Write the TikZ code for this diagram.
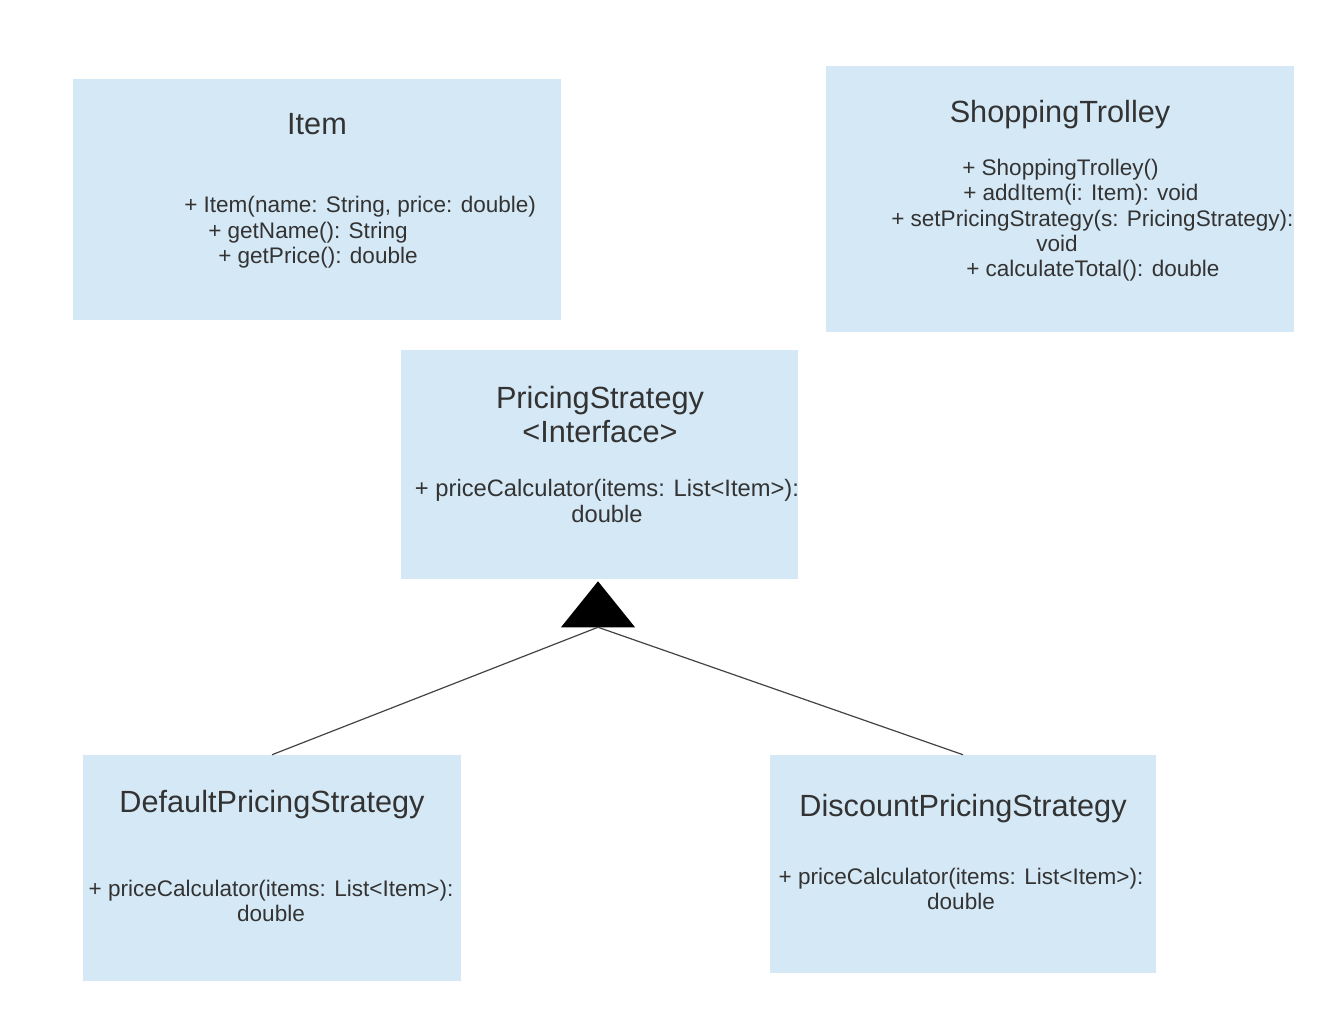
\documentclass[tikz,border=0pt]{standalone}
\usepackage{fontspec}
\setmainfont{Liberation Sans}
\usepackage{tikz}
\usetikzlibrary{positioning, calc}
\definecolor{clsblue}{RGB}{213,232,245}
\definecolor{inkgray}{RGB}{51,51,51}
\definecolor{linegray}{RGB}{68,68,68}

\begin{document}
\begin{tikzpicture}[x=0.75pt, y=-0.75pt,
  cls/.style 2 args={fill=clsblue, inner sep=0pt,
              minimum width=#1*0.75pt, minimum height=#2*0.75pt},
  ttl/.style={text=inkgray, inner sep=0pt, align=center,
              font=\fontsize{23}{25.5}\selectfont},
  mth/.style={text=inkgray, inner sep=0pt,
              font=\fontsize{16.9}{19}\selectfont},
  link/.style={draw=linegray, line width=0.9pt}]
  \fill[white] (0,0) rectangle (1334,1034);
  \useasboundingbox (0,0) rectangle (1334,1034);
  % classes
  \node[cls={488}{241}] (it) at (317,199.5) {};
  \node[ttl] (itt) at (317,124) {Item};
  \node[mth, align=left, anchor=west] (itm) at (184,232.5)
    {+ Item(name: String, price: double)\\
     \hspace*{18pt}+ getName(): String\\
     \hspace*{25.5pt}+ getPrice(): double};
  \node[cls={468}{266}] (st) at (1060,199) {};
  \node[ttl] (stt) at (1060,115) {ShoppingTrolley};
  \node[mth, align=left, anchor=west] (stm) at (891,220.5)
    {\hspace*{53.25pt}+ ShoppingTrolley()\\
     \hspace*{54pt}+ addItem(i: Item): void\\
     + setPricingStrategy(s: PricingStrategy):\\
     \hspace*{108.75pt}void\\
     \hspace*{56.25pt}+ calculateTotal(): double};
  % strategy interface
  \node[cls={397}{229}] (ps) at (599.5,464.5) {};
  \node[ttl] (pst) at (600,414.5) {PricingStrategy\\<Interface>};
  \node[mth, align=center, font=\fontsize{17.8}{19}\selectfont] (psm) at (607,501)
    {+ priceCalculator(items: List<Item>):\\double};
  % implementations
  \node[cls={378}{226}] (dp) at (272,868) {};
  \node[ttl] (dpt) at (272,805) {DefaultPricingStrategy};
  \node[mth, align=center] (dpm) at (271,901)
    {+ priceCalculator(items: List<Item>):\\double};
  \node[cls={386}{218}] (cp) at (963,864) {};
  \node[ttl] (cpt) at (963,809) {DiscountPricingStrategy};
  \node[mth, align=center] (cpm) at (961,889)
    {+ priceCalculator(items: List<Item>):\\double};
  % realisation
  \coordinate (tip) at ($(ps.south)+(-1.5,2)$);
  \coordinate (foot) at ($(tip)+(0,46)$);
  \fill[black] (tip) -- ++(37,46) -- ++(-74,0) -- cycle;
  \draw[link] (foot) -- (dp.north);
  \draw[link] (foot) -- (cp.north);
\end{tikzpicture}
\end{document}
